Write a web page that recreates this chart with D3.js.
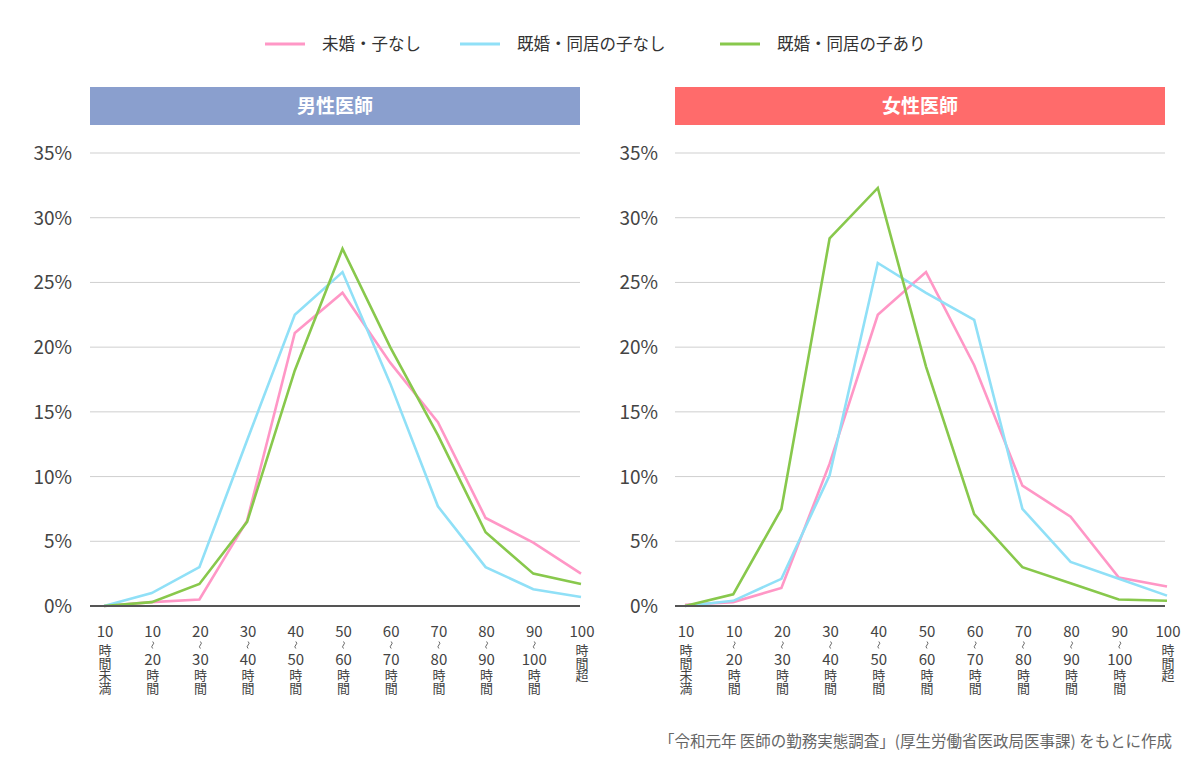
<!DOCTYPE html>
<html><head><meta charset="utf-8">
<script src="https://cdn.jsdelivr.net/npm/d3@7"></script>
<style>body{margin:0;background:#fff;} svg{display:block;font-family:"Noto Sans CJK JP","Noto Sans",sans-serif;}</style>
</head><body>
<svg id="c" width="1200" height="781"></svg>
<script>
const categories = [
  ["10","時","間","未","満"],
  ["10","~","20","時","間"],
  ["20","~","30","時","間"],
  ["30","~","40","時","間"],
  ["40","~","50","時","間"],
  ["50","~","60","時","間"],
  ["60","~","70","時","間"],
  ["70","~","80","時","間"],
  ["80","~","90","時","間"],
  ["90","~","100","時","間"],
  ["100","時","間","超"]
];
const seriesNames = ["未婚・子なし","既婚・同居の子なし","既婚・同居の子あり"];
const seriesColors = ["#ff97c6","#90e0f7","#88c84c"];
const yTicks = [0,5,10,15,20,25,30,35];

const maleSingle   = [0, 0.3, 0.5, 6.6, 21.1, 24.2, 18.8, 14.2, 6.8, 4.9, 2.5];
const maleNoChild  = [0, 1.0, 3.0, 12.8, 22.5, 25.8, 17.2, 7.7, 3.0, 1.3, 0.7];
const maleChild    = [0, 0.3, 1.7, 6.5, 18.2, 27.6, 20.0, 13.2, 5.7, 2.5, 1.7];

const femaleSingle  = [0.1, 0.3, 1.4, 11.0, 22.5, 25.8, 18.6, 9.3, 6.9, 2.2, 1.5];
const femaleNoChild = [0, 0.4, 2.1, 10.1, 26.5, 24.2, 22.1, 7.5, 3.4, 2.1, 0.8];
const femaleChild   = [0, 0.9, 7.5, 28.4, 32.3, 18.5, 7.1, 3.0, 1.75, 0.5, 0.4];

const panels = [
  {title:"男性医師", color:"#8a9fce", x0:90, x1:580, p0:104, p1:581, labelX:72, data:[maleSingle,maleNoChild,maleChild]},
  {title:"女性医師", color:"#ff6b6b", x0:675, x1:1165, p0:685, p1:1167, labelX:658, data:[femaleSingle,femaleNoChild,femaleChild]}
];

const svg = d3.select("#c");
const y = d3.scaleLinear().domain([0,35]).range([606,153]);

const legX = [265, 460, 720];
seriesNames.forEach((n,i)=>{
  svg.append("line").attr("x1",legX[i]).attr("x2",legX[i]+40).attr("y1",44).attr("y2",44)
    .attr("stroke",seriesColors[i]).attr("stroke-width",3);
  svg.append("text").attr("x",legX[i]+57).attr("y",50).attr("font-size",16.5).attr("fill","#333").text(n);
});

panels.forEach(p=>{
  const g = svg.append("g");
  g.append("rect").attr("x",p.x0).attr("y",87).attr("width",p.x1-p.x0).attr("height",38).attr("fill",p.color);
  g.append("text").attr("x",(p.x0+p.x1)/2).attr("y",113).attr("text-anchor","middle")
    .attr("font-size",19).attr("font-weight","bold").attr("fill","#fff").text(p.title);

  g.selectAll("line.grid").data(yTicks.filter(t=>t>0)).join("line")
    .attr("x1",p.x0).attr("x2",p.x1).attr("y1",d=>y(d)).attr("y2",d=>y(d))
    .attr("stroke","#cfcfcf").attr("stroke-width",1);
  g.selectAll("text.yl").data(yTicks).join("text")
    .attr("x",p.labelX).attr("y",d=>y(d)+7).attr("text-anchor","end")
    .attr("font-size",19).attr("fill","#444").text(d=>d+"%");

  const x = d3.scalePoint().domain(d3.range(categories.length)).range([p.p0,p.p1]);

  categories.forEach((lines,i)=>{
    const cx = x(i)+1;
    const hasTilde = lines[1]==="~";
    const ys = hasTilde ? [637, 645, 665, 680, 693] : [637, 655, 668, 680, 693];
    const t = g.append("text").attr("text-anchor","middle").attr("fill","#444");
    lines.forEach((s,j)=>{
      const isNum = /^\d+$/.test(s);
      if(s==="~"){
        g.append("path")
          .attr("d",`M${cx},${ys[j]-3.5} q2,1.75 0,3.5 q-2,1.75 0,3.5`)
          .attr("fill","none").attr("stroke","#555").attr("stroke-width",0.9);
      } else {
        t.append("tspan").attr("x",cx).attr("y",ys[j]).attr("font-size",isNum?15:13).text(s);
      }
    });
  });

  const line = d3.line().x((d,i)=>x(i)).y(d=>y(d));
  p.data.forEach((s,k)=>{
    g.append("path").datum(s).attr("d",line).attr("fill","none")
      .attr("stroke",seriesColors[k]).attr("stroke-width",2.6).attr("stroke-linejoin","miter");
  });
  g.append("line").attr("x1",p.x0).attr("x2",p.x1).attr("y1",y(0)).attr("y2",y(0))
    .attr("stroke","#555").attr("stroke-width",2);
});

svg.append("text").attr("x",1172).attr("y",747).attr("text-anchor","end").attr("font-size",15.5).attr("fill","#666")
  .text("「令和元年 医師の勤務実態調査」(厚生労働省医政局医事課) をもとに作成");
</script>
</body></html>
